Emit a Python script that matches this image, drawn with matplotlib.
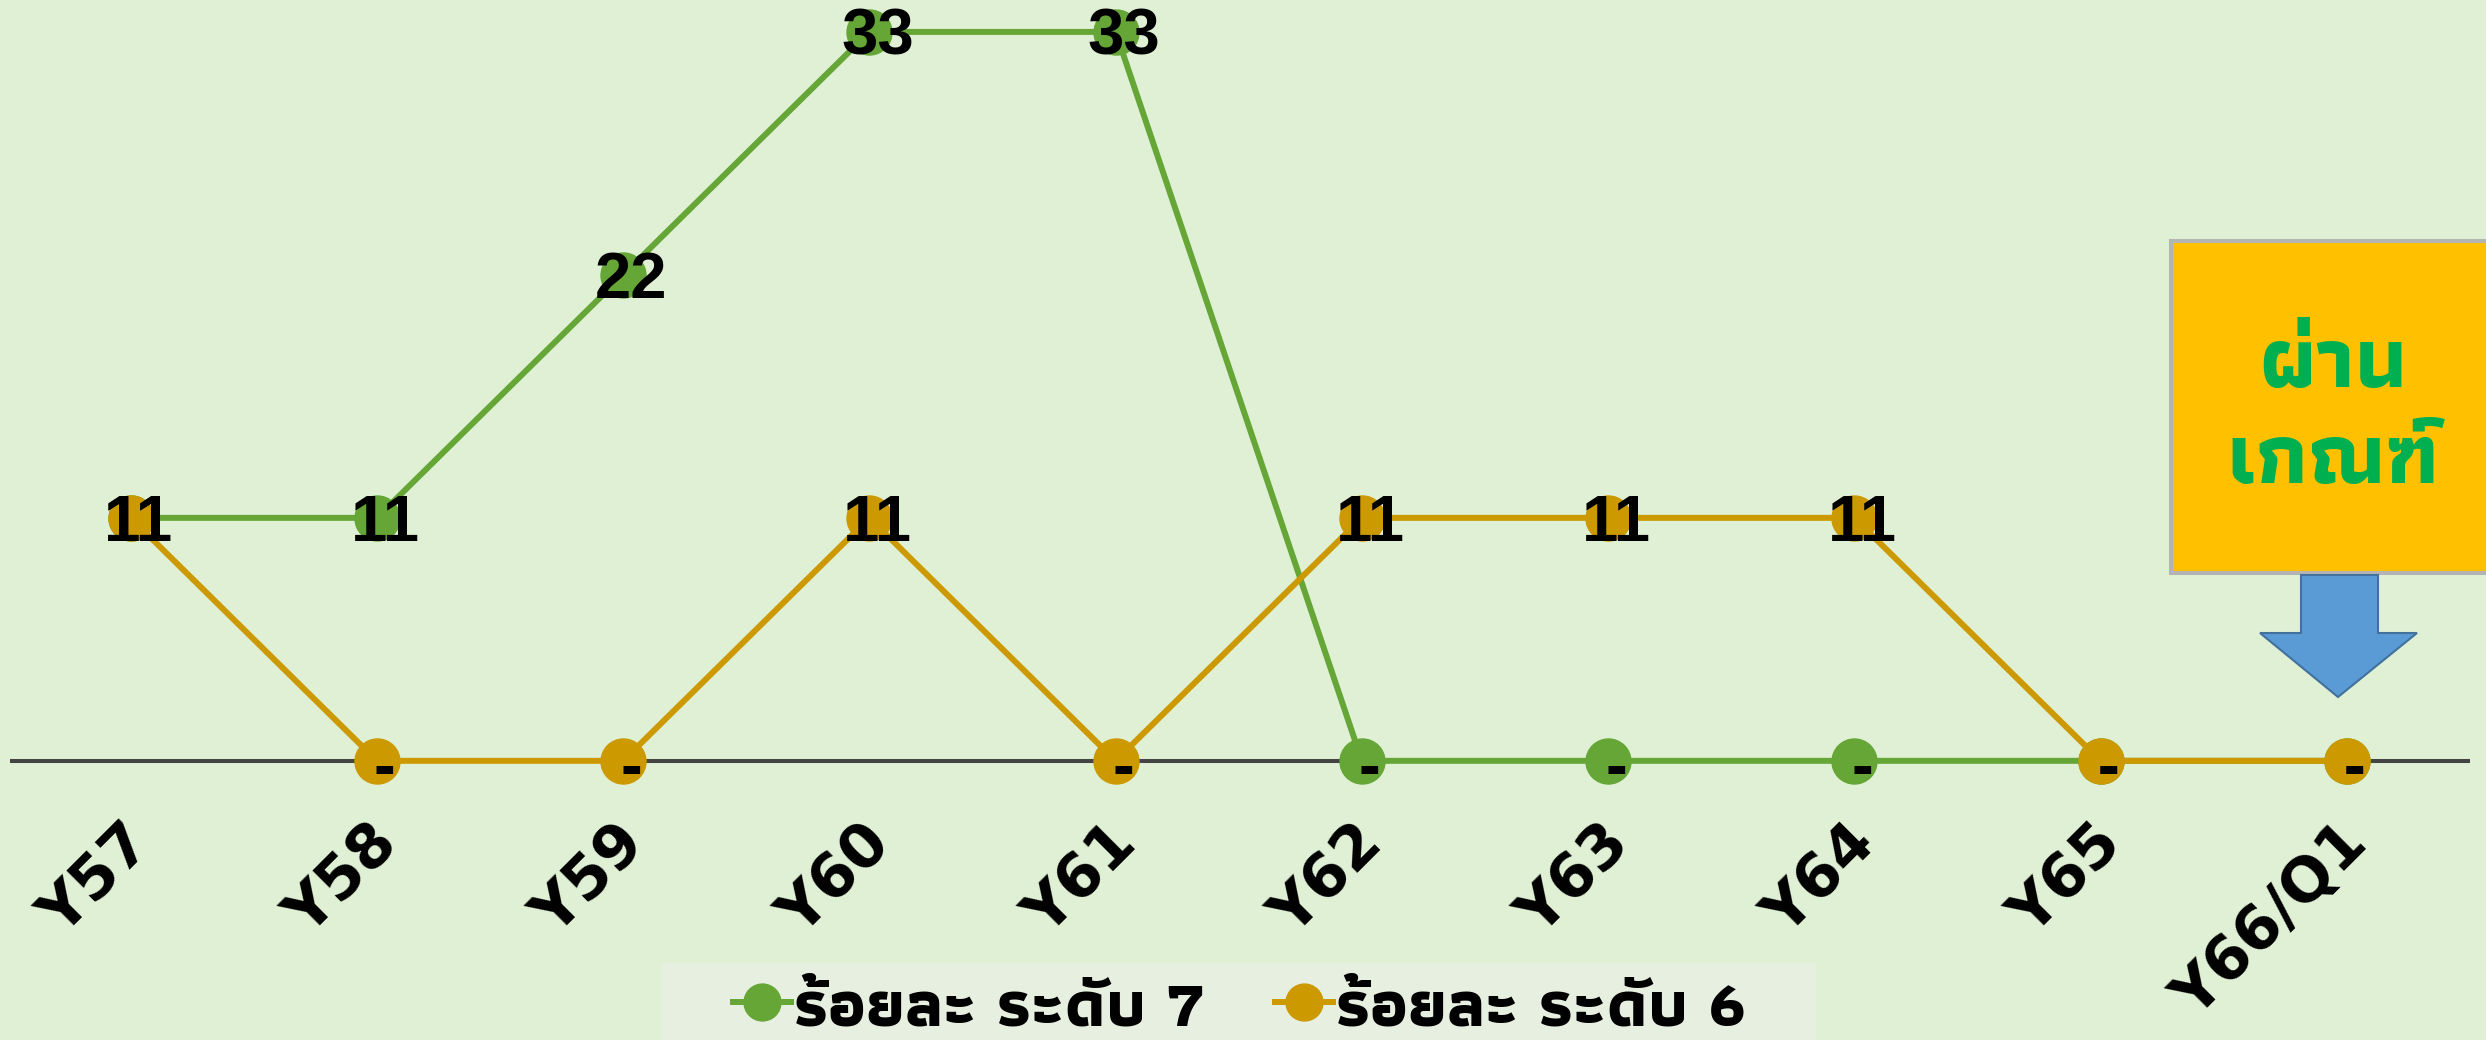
import matplotlib
matplotlib.use("Agg")
import matplotlib.pyplot as plt
from matplotlib import font_manager
from matplotlib.ft2font import FT2Font
from matplotlib.patches import Polygon, Rectangle
from matplotlib.transforms import ScaledTranslation

W, H = 2486, 1040
DPI = 100

CATEGORIES = ["Y57", "Y58", "Y59", "Y60", "Y61", "Y62", "Y63", "Y64", "Y65", "Y66/Q1"]
LEVEL_7 = [11, 11, 22, 33, 33, 0, 0, 0, 0, 0]
LEVEL_6 = [11, 0, 0, 11, 0, 11, 11, 11, 0, 0]
SERIES_NAMES = ["ร้อยละ ระดับ 7", "ร้อยละ ระดับ 6"]
CALLOUT_TEXT = "ผ่าน\nเกณฑ์"

GREEN = "#65A637"
GOLD = "#CC9900"
BG = "#DFF0D5"
LEGEND_BG = "#E7F0E0"


def find_thai_family() -> str:
    candidates = []
    for entry in font_manager.fontManager.ttflist:
        try:
            charmap = FT2Font(entry.fname).get_charmap()
        except Exception:
            continue
        if ord("ร") in charmap and ord("ณ") in charmap:
            weight = entry.weight
            if isinstance(weight, str):
                weight = font_manager.weight_dict.get(weight, 400)
            candidates.append((abs(weight - 700), entry.name))
    if not candidates:
        return "DejaVu Sans"
    candidates.sort()
    return candidates[0][1]


def px(x, y):
    # pixel position measured from the top-left corner -> figure fraction
    return x / W, 1 - y / H


THAI = find_thai_family()

fig = plt.figure(figsize=(W / DPI, H / DPI), dpi=DPI, facecolor=BG)
ax = fig.add_axes([10 / W, (H - 805) / H, 2460 / W, 804 / H])
ax.set_facecolor("none")
for spine in ax.spines.values():
    spine.set_visible(False)

x = list(range(len(CATEGORIES)))
ax.axhline(0, color="#444444", lw=2.9, zorder=1)
ax.plot(x, LEVEL_7, color=GREEN, lw=4.3, marker="o", ms=32.4, mec=GREEN,
        label=SERIES_NAMES[0], zorder=3, clip_on=False)
ax.plot(x, LEVEL_6, color=GOLD, lw=4.3, marker="o", ms=32.4, mec=GOLD,
        label=SERIES_NAMES[1], zorder=4, clip_on=False)

for values in (LEVEL_7, LEVEL_6):
    for i, v in enumerate(values):
        if v:
            ax.annotate(f"{v}", (i, v), xytext=(5.8, -16.6), textcoords="offset points",
                        ha="center", va="baseline", fontsize=47, fontweight="bold",
                        family="Liberation Sans", zorder=6)
        else:
            ax.annotate("-", (i, v), xytext=(-2.2, -19.0), textcoords="offset points",
                        ha="left", va="baseline", fontsize=47, fontweight="bold",
                        family="Liberation Sans", zorder=6)

ax.set_xlim(-0.49, 9.5)
ax.set_ylim(-2, 34.4)
ax.set_yticks([])
ax.set_xticks(x, CATEGORIES, rotation=45, ha="right", va="center",
              rotation_mode="anchor", fontsize=44, fontweight="bold")
ax.tick_params(axis="x", length=0, pad=21)
shift = ScaledTranslation(0.12, 0, fig.dpi_scale_trans)
for label in ax.get_xticklabels():
    label.set_transform(label.get_transform() + shift)

# legend on its own light panel, cut by the bottom edge
left, top = px(662, 963)
right, _ = px(1816, 963)
fig.patches.append(Rectangle((left, 0), right - left, top, transform=fig.transFigure,
                             facecolor=LEGEND_BG, edgecolor="none", zorder=-1))
ax.legend(loc="center", bbox_to_anchor=px(1239, 1008), bbox_transform=fig.transFigure,
          ncol=2, frameon=False, borderpad=0, borderaxespad=0, handlelength=0.87,
          handletextpad=0.05, columnspacing=1.05, markerscale=0.82,
          prop={"family": [THAI, "DejaVu Sans"], "weight": "bold", "size": 48})

# callout box with arrow
bx, by = px(2171, 573)
bw = (2500 - 2171) / W
bh = (573 - 241) / H
fig.patches.append(Rectangle((bx, by), bw, bh, transform=fig.transFigure,
                             facecolor="#FFC000", edgecolor="#B4B4B4", lw=2.9, zorder=2))
fig.text(*px(2333, 414), CALLOUT_TEXT, ha="center", va="center", color="#00B050",
         fontsize=62, fontweight="bold", family=[THAI, "DejaVu Sans"], linespacing=1.38,
         zorder=3)
arrow = [(2301, 575), (2378, 575), (2378, 633), (2417, 633), (2338, 697),
         (2260, 633), (2301, 633)]
fig.patches.append(Polygon([px(a, b) for a, b in arrow], closed=True, transform=fig.transFigure,
                           facecolor="#5B9BD5", edgecolor="#41719C", lw=1.5, zorder=2))

fig.savefig("out.png", dpi=DPI, facecolor=BG)
